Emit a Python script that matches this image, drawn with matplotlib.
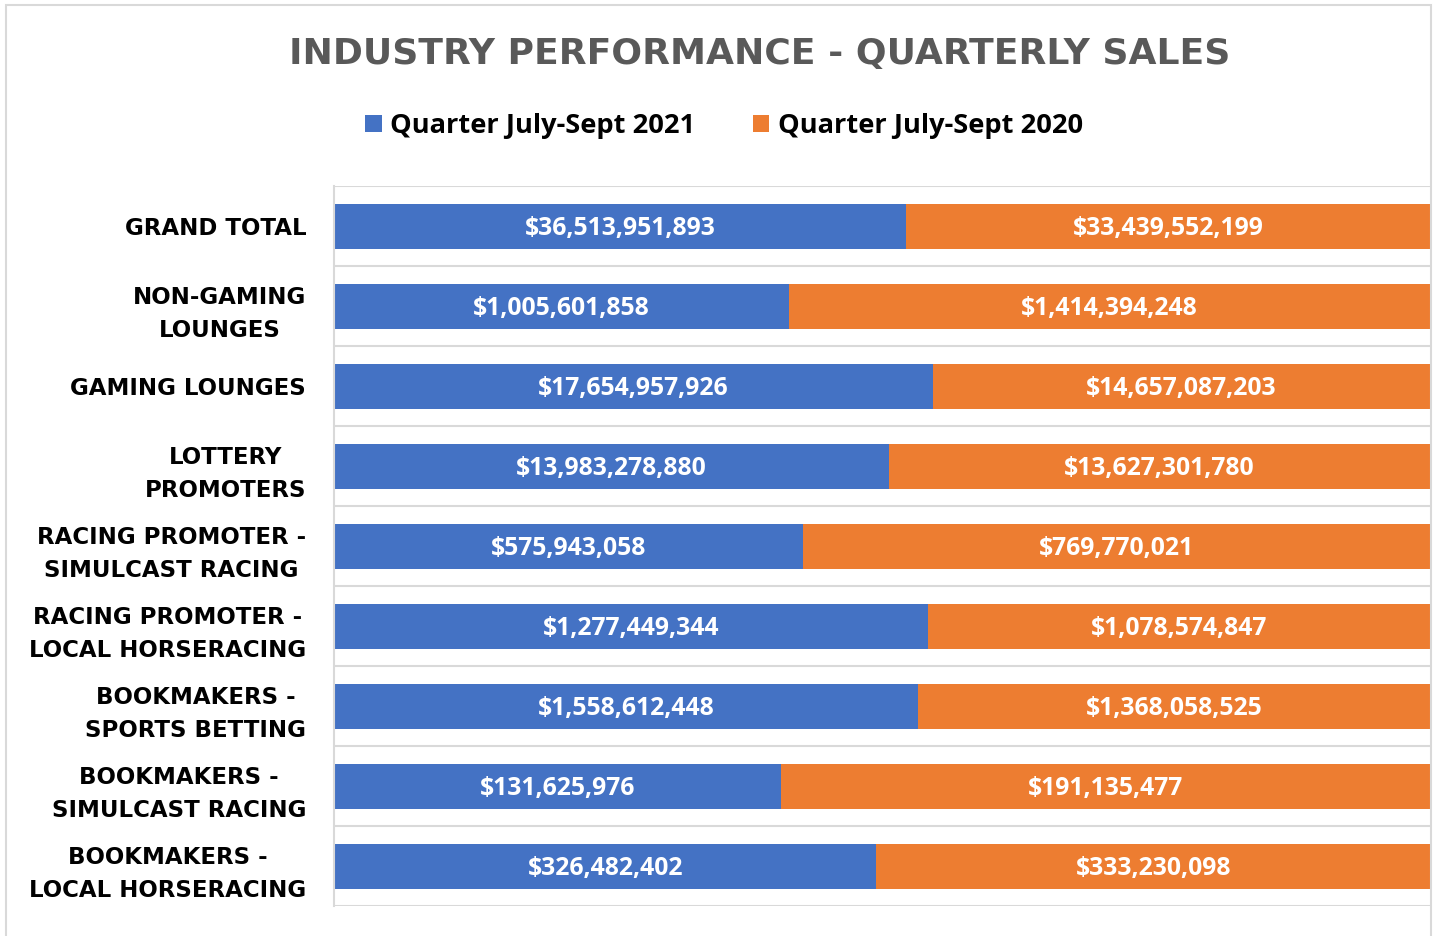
import matplotlib
matplotlib.use("Agg")
import matplotlib.pyplot as plt
from matplotlib.patches import Rectangle, Patch
import numpy as np

categories = [
    "GRAND TOTAL",
    "NON-GAMING\nLOUNGES",
    "GAMING LOUNGES",
    "LOTTERY\nPROMOTERS",
    "RACING PROMOTER -\nSIMULCAST RACING",
    "RACING PROMOTER -\nLOCAL HORSERACING",
    "BOOKMAKERS -\nSPORTS BETTING",
    "BOOKMAKERS -\nSIMULCAST RACING",
    "BOOKMAKERS -\nLOCAL HORSERACING",
]
sales_2021 = [36513951893, 1005601858, 17654957926, 13983278880, 575943058,
              1277449344, 1558612448, 131625976, 326482402]
sales_2020 = [33439552199, 1414394248, 14657087203, 13627301780, 769770021,
              1078574847, 1368058525, 191135477, 333230098]
series_names = ["Quarter July-Sept 2021", "Quarter July-Sept 2020"]

BLUE = "#4472C4"
ORANGE = "#ED7D31"
GRID = "#D9D9D9"
FONT = "Open Sans"
WIDE = "DejaVu Sans"

fig = plt.figure(figsize=(14.35, 9.36), dpi=100)
# outer chart frame
fig.patches.append(Rectangle((6/1435, -0.05), (1431-6)/1435, 1.05 - 5/936,
                             transform=fig.transFigure, fill=False,
                             edgecolor=GRID, linewidth=1.5))

ax = fig.add_axes([334/1435, 30/936, (1430-334)/1435, (906-186)/936])

a = np.array(sales_2021, dtype=float)
b = np.array(sales_2020, dtype=float)
tot = a + b
sa = a / tot
sb = b / tot
y = np.arange(len(categories))
h = 0.5625

ax.barh(y, sa, height=h, color=BLUE, label=series_names[0])
ax.barh(y, sb, left=sa, height=h, color=ORANGE, label=series_names[1])

for i in range(len(categories)):
    ax.text(sa[i] / 2, y[i], f"${sales_2021[i]:,}", ha="center", va="center_baseline",
            color="white", fontsize=17.8, fontweight="bold", family=FONT)
    ax.text(sa[i] + sb[i] / 2, y[i], f"${sales_2020[i]:,}", ha="center", va="center_baseline",
            color="white", fontsize=17.8, fontweight="bold", family=FONT)

ax.set_xlim(0, 1)
ax.set_ylim(len(categories) - 0.5, -0.5)
ax.set_xticks([])
ax.set_yticks(y)
ax.set_yticklabels(categories, fontsize=16.5, fontweight="bold", family=WIDE,
                   multialignment="center", linespacing=1.58)
ax.tick_params(axis="y", length=0, pad=20)
ax.set_yticks(np.arange(-0.5, len(categories), 1), minor=True)
ax.tick_params(axis="y", which="minor", length=0)
ax.grid(True, axis="y", which="minor", color=GRID, linewidth=1.5)
ax.set_axisbelow(True)
for s in ["top", "right", "bottom"]:
    ax.spines[s].set_visible(False)
ax.spines["left"].set_color(GRID)
ax.spines["left"].set_linewidth(1.5)

fig.text(760/1435, 1 - 54/936, "INDUSTRY PERFORMANCE - QUARTERLY SALES",
         ha="center", va="center", fontsize=26, fontweight="bold",
         color="#595959", family=WIDE)

handles = [Patch(facecolor=BLUE), Patch(facecolor=ORANGE)]
fig.legend(handles, series_names, loc="center", bbox_to_anchor=(724/1435, 1 - 126/936),
           ncol=2, frameon=False, prop={"family": FONT, "weight": "bold", "size": 19.6},
           handlelength=0.62, handleheight=0.62, handletextpad=0.3, columnspacing=2.1)

fig.savefig("out.png", dpi=100)
